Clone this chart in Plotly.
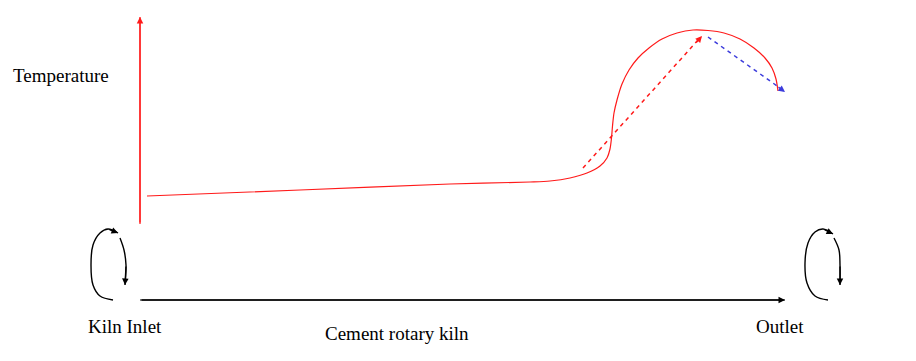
import plotly.graph_objects as go

# Temperature profile along the kiln (diagram coordinates, pixel-like units)
curve_x = [147, 300, 450, 530, 550, 570, 587, 600, 607, 610, 611.5, 612.5, 614, 617, 622, 629, 638, 649, 662, 677, 693, 708, 724, 740, 754, 765, 772, 776, 778]
curve_y = [196, 190, 184, 182, 181, 178, 173, 166, 158, 149, 138, 126, 113, 100, 84, 70, 58, 48, 39, 33, 30, 30.5, 33, 39, 48, 58, 68, 79, 91]

# Dashed trend arrows (start, end) and arrowhead (base, tip)
red_dash_x = [583, 698]
red_dash_y = [168, 40]
red_head_x = [695, 702]
red_head_y = [44, 36]
blue_dash_x = [708, 780]
blue_dash_y = [37, 88]
blue_head_x = [777, 785]
blue_head_y = [86, 92]

# Axes arrows
temp_axis_x = [140, 140]
temp_axis_y = [224, 17]
kiln_axis_x = [140, 785]
kiln_axis_y = [300, 300]

# Rotation symbols
left_arc_x = [113, 100, 93, 91, 93, 100, 108, 118]
left_arc_y = [300, 296, 285, 265, 245, 233, 229, 233]
left_drop_x = [120, 124, 126, 125]
left_drop_y = [238, 250, 265, 285]
right_arc_x = [828, 815, 807, 805, 808, 815, 823, 833]
right_arc_y = [300, 296, 283, 263, 243, 232, 229, 234]
right_drop_x = [834, 839, 840, 840]
right_drop_y = [238, 250, 265, 285]

labels = ["Temperature", "Kiln Inlet", "Cement rotary kiln", "Outlet"]
label_x = [61, 125, 397, 780]
label_y = [75, 326, 333, 326]

RED = "#ff1a1a"
BLUE = "#3c3cdc"
BLACK = "#000000"

# page body has an 8px margin; offset the data ranges to compensate
OFF = 8
W, H = 900, 345

fig = go.Figure()

def line(xs, ys, color, dash="solid", width=1.2, shape="linear", smoothing=1.0):
    fig.add_trace(go.Scatter(x=xs, y=ys, mode="lines",
                             line=dict(color=color, dash=dash, width=width, shape=shape,
                                       smoothing=smoothing),
                             hoverinfo="skip", showlegend=False))

line(temp_axis_x, temp_axis_y, RED)
line(kiln_axis_x, kiln_axis_y, BLACK)
line(curve_x, curve_y, RED, shape="spline", smoothing=0.8)
line(red_dash_x, red_dash_y, RED, dash="4px,4px", width=1.5)
line(blue_dash_x, blue_dash_y, BLUE, dash="4px,4px", width=1.5)
for xs, ys in [(left_arc_x, left_arc_y), (left_drop_x, left_drop_y),
               (right_arc_x, right_arc_y), (right_drop_x, right_drop_y)]:
    line(xs, ys, BLACK, shape="spline", width=1.4)

def head(xs, ys, color):
    fig.add_annotation(x=xs[-1], y=ys[-1], ax=xs[-2], ay=ys[-2],
                       xref="x", yref="y", axref="x", ayref="y",
                       text="", showarrow=True, arrowhead=2, arrowsize=1,
                       arrowwidth=1.3, arrowcolor=color, standoff=0)

head(temp_axis_x, temp_axis_y, RED)
head(kiln_axis_x, kiln_axis_y, BLACK)
head(red_head_x, red_head_y, RED)
head(blue_head_x, blue_head_y, BLUE)
head(left_arc_x, left_arc_y, BLACK)
head(left_drop_x, left_drop_y, BLACK)
head(right_arc_x, right_arc_y, BLACK)
head(right_drop_x, right_drop_y, BLACK)

for t, x, y in zip(labels, label_x, label_y):
    fig.add_annotation(x=x, y=y, xref="x", yref="y", text=t, showarrow=False,
                       font=dict(family="Liberation Serif, Times New Roman, serif", size=19, color="black"))

fig.update_xaxes(range=[OFF, OFF + W], visible=False, fixedrange=True)
fig.update_yaxes(range=[OFF + H, OFF], visible=False, fixedrange=True)
fig.update_layout(width=W, height=H, margin=dict(l=0, r=0, t=0, b=0),
                  plot_bgcolor="white", paper_bgcolor="white")

fig.write_html("out.html")
